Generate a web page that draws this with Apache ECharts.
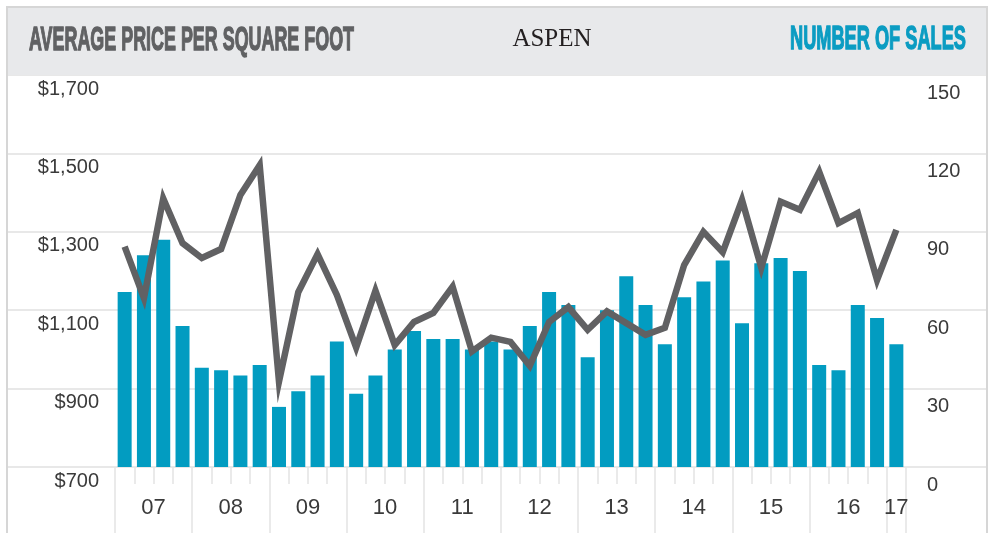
<!DOCTYPE html>
<html>
<head>
<meta charset="utf-8">
<title>Aspen</title>
<script src="https://cdn.jsdelivr.net/npm/echarts@6/dist/echarts.min.js"></script>
<style>
  html, body { margin: 0; padding: 0; background: #fff; }
  #chart { width: 994px; height: 533px; }
</style>
</head>
<body>
<div id="chart"></div>
<script>
// quarters 2007 Q1 .. 2017 Q1
var quarters = [
  '07 Q1', '07 Q2', '07 Q3', '07 Q4',
  '08 Q1', '08 Q2', '08 Q3', '08 Q4',
  '09 Q1', '09 Q2', '09 Q3', '09 Q4',
  '10 Q1', '10 Q2', '10 Q3', '10 Q4',
  '11 Q1', '11 Q2', '11 Q3', '11 Q4',
  '12 Q1', '12 Q2', '12 Q3', '12 Q4',
  '13 Q1', '13 Q2', '13 Q3', '13 Q4',
  '14 Q1', '14 Q2', '14 Q3', '14 Q4',
  '15 Q1', '15 Q2', '15 Q3', '15 Q4',
  '16 Q1', '16 Q2', '16 Q3', '16 Q4',
  '17 Q1'
]
// number of sales (bars, right axis)
var salesCount = [
  67, 81, 87, 54,
  38, 37, 35, 39,
  23, 29, 35, 48,
  28, 35, 45, 52,
  49, 49, 45, 48,
  45, 54, 67, 62,
  42, 60, 73, 62,
  47, 65, 71, 79,
  55, 78, 80, 75,
  39, 37, 62, 57,
  47
]
// average price per square foot (line, left axis)
var pricePerSqft = [
  1262, 1131, 1385, 1271,
  1233, 1256, 1394, 1470,
  918, 1146, 1243, 1139,
  1005, 1150, 1011, 1070,
  1093, 1160, 995, 1030,
  1019, 958, 1070, 1108,
  1050, 1097, 1067, 1037,
  1055, 1215, 1300, 1248,
  1381, 1208, 1377, 1356,
  1453, 1322, 1348, 1177,
  1305
]
var priceTicks = { min: 700, max: 1700, step: 200 }
var salesTicks = { min: 0, max: 150, step: 30 }

var leftTitle = 'AVERAGE PRICE PER SQUARE FOOT'
var centerTitle = 'ASPEN'
var rightTitle = 'NUMBER OF SALES'

var BAR_COLOR = '#029cc1'
var LINE_COLOR = '#616163'
var GRID_COLOR = '#e8e8e8'
var TEXT_COLOR = '#3a3a3a'
var LABEL_FONT = '"Liberation Sans", Arial, sans-serif'
var HEAD_FONT = '"Liberation Sans Narrow", "Liberation Sans", sans-serif'

// squeeze a bold narrow font to the width of the condensed headline
function fitScale(text, font, target) {
  var ctx = document.createElement('canvas').getContext('2d')
  ctx.font = font
  return target / ctx.measureText(text).width
}

var headFont = 'bold 34px ' + HEAD_FONT

var chart = echarts.init(document.getElementById('chart'))

chart.setOption({
  animation: false,
  graphic: [
    { // outer frame
      type: 'rect', z: 0,
      shape: { x: 7, y: 7, width: 980, height: 600 },
      style: { fill: 'none', stroke: '#d6d6d6', lineWidth: 2 }
    },
    { // header band
      type: 'rect', z: 1,
      shape: { x: 8, y: 8, width: 978, height: 67 },
      style: { fill: '#e8e9eb' }
    },
    {
      type: 'text', z: 2, x: 29, y: 41,
      scaleX: fitScale(leftTitle, headFont, 325),
      style: { text: leftTitle, font: headFont, fill: '#606163', stroke: '#606163', lineWidth: 1.4, verticalAlign: 'middle' }
    },
    {
      type: 'text', z: 2, x: 552, y: 39,
      style: { text: centerTitle, font: '25px "Liberation Serif", "Times New Roman", serif', fill: '#231f20', align: 'center', verticalAlign: 'middle' }
    },
    {
      type: 'text', z: 2, x: 790, y: 40,
      scaleX: fitScale(rightTitle, headFont, 176),
      style: { text: rightTitle, font: headFont, fill: '#0b9cc2', stroke: '#0b9cc2', lineWidth: 1.4, verticalAlign: 'middle' }
    }
  ],
  grid: [
    { left: 115, right: 88, top: 75, bottom: 66 },
    { left: 8, right: 8, top: 75, bottom: 66 }
  ],
  xAxis: [
    { // quarter ticks + year labels
      type: 'category',
      gridIndex: 0,
      data: quarters,
      boundaryGap: true,
      axisLine: { show: false },
      axisTick: { show: true, interval: 0, length: 17, lineStyle: { color: '#e3e3e3', width: 1.5 } },
      axisLabel: {
        interval: function (index) { return index % 4 === 1 || index === quarters.length - 1 },
        margin: 30,
        formatter: function (value, index) {
          var yr = value.slice(0, 2)
          return index === quarters.length - 1 ? '{e|' + yr + '}' : '{y|' + yr + '}'
        },
        rich: {
          // mid-year labels sit on the boundary between Q2 and Q3
          y: { fontSize: 22, fontFamily: LABEL_FONT, color: TEXT_COLOR, lineHeight: 22, padding: [0, 0, 0, 19.3] },
          e: { fontSize: 22, fontFamily: LABEL_FONT, color: TEXT_COLOR, lineHeight: 22 }
        }
      },
      splitLine: { show: false }
    },
    { // year boundary ticks
      type: 'category',
      gridIndex: 0,
      position: 'bottom',
      data: quarters,
      boundaryGap: true,
      axisLine: { show: false },
      axisTick: { show: true, interval: function (index) { return index % 4 === 0 }, length: 70, lineStyle: { color: '#e3e3e3', width: 1.5 } },
      axisLabel: { show: false },
      splitLine: { show: false }
    },
    { type: 'value', gridIndex: 1, show: false, min: 0, max: 1 }
  ],
  yAxis: [
    {
      type: 'value',
      gridIndex: 0,
      position: 'left',
      min: priceTicks.min,
      max: priceTicks.max,
      interval: priceTicks.step,
      axisLine: { show: false },
      axisTick: { show: false },
      splitLine: { show: false },
      axisLabel: {
        margin: 16,
        fontSize: 20,
        fontFamily: LABEL_FONT,
        color: TEXT_COLOR,
        verticalAlign: 'top',
        lineHeight: 22,
        padding: [3, 0, 0, 0],
        formatter: function (v) { return '$' + v.toLocaleString('en-US') }
      }
    },
    {
      type: 'value',
      gridIndex: 0,
      position: 'right',
      min: salesTicks.min,
      max: salesTicks.max,
      interval: salesTicks.step,
      axisLine: { show: false },
      axisTick: { show: false },
      splitLine: { show: false },
      axisLabel: {
        margin: 21,
        fontSize: 20,
        fontFamily: LABEL_FONT,
        color: TEXT_COLOR,
        verticalAlign: 'top',
        lineHeight: 22,
        padding: [7, 0, 0, 0]
      }
    },
    { // full width grid lines behind everything
      type: 'value',
      gridIndex: 1,
      min: 0,
      max: 5,
      interval: 1,
      axisLine: { show: false },
      axisTick: { show: false },
      axisLabel: { show: false },
      splitLine: { show: true, lineStyle: { color: GRID_COLOR, width: 2 } }
    }
  ],
  series: [
    {
      name: 'Number of sales',
      type: 'bar',
      xAxisIndex: 0,
      yAxisIndex: 1,
      barWidth: 14,
      itemStyle: { color: BAR_COLOR },
      data: salesCount,
      z: 2
    },
    {
      name: 'Average price per square foot',
      type: 'line',
      xAxisIndex: 0,
      yAxisIndex: 0,
      symbol: 'none',
      lineStyle: { color: LINE_COLOR, width: 6.5, join: 'miter', miterLimit: 10 },
      data: pricePerSqft,
      z: 3
    }
  ]
})
</script>
</body>
</html>
